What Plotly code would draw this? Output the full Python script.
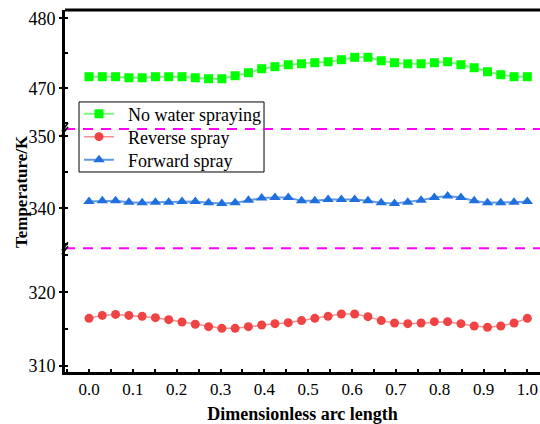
import plotly.graph_objects as go

n = 34
arc = [i / 33 for i in range(n)]

no_water = [471.66, 471.66, 471.66, 471.51, 471.51, 471.66, 471.66, 471.66, 471.51, 471.37,
            471.37, 471.80, 472.23, 472.80, 473.09, 473.37, 473.51, 473.66, 473.80, 474.09,
            474.43, 474.43, 473.94, 473.66, 473.51, 473.51, 473.66, 473.80, 473.37, 472.94,
            472.37, 471.94, 471.66, 471.66]

reverse = [316.47, 316.87, 317.00, 316.87, 316.74, 316.56, 316.29, 315.97, 315.66, 315.34,
           315.11, 315.11, 315.34, 315.57, 315.75, 315.88, 316.16, 316.47, 316.74, 317.06,
           317.06, 316.70, 316.16, 315.84, 315.75, 315.84, 316.02, 316.02, 315.75, 315.43,
           315.25, 315.43, 315.84, 316.47]

forward = [340.93, 341.03, 341.03, 340.85, 340.75, 340.85, 340.85, 340.93, 340.93, 340.75,
           340.65, 340.75, 341.13, 341.41, 341.50, 341.50, 341.03, 341.03, 341.21, 341.21,
           341.21, 341.03, 340.75, 340.65, 340.85, 341.13, 341.50, 341.69, 341.50, 341.03,
           340.75, 340.75, 340.85, 340.93]

x_ticks = [round(0.1 * i, 1) for i in range(11)]
x_ticktext = [f"{v:.1f}" for v in x_ticks]

FONT = "Liberation Serif"
PAD = "&nbsp;&nbsp;"

fig = go.Figure()
fig.add_trace(go.Scatter(
    x=arc, y=no_water, yaxis="y3", name=PAD + "No water spraying", mode="lines+markers",
    line=dict(color="rgba(0,230,0,0.5)", width=2),
    marker=dict(symbol="square", size=9, color="#00FF00"), legend="legend",
))
fig.add_trace(go.Scatter(
    x=arc, y=reverse, yaxis="y", name=PAD + "Reverse spray", mode="lines+markers",
    line=dict(color="rgba(240,70,70,0.6)", width=1.5),
    marker=dict(symbol="circle", size=9, color="#F04343"), legend="legend2",
))
fig.add_trace(go.Scatter(
    x=arc, y=forward, yaxis="y2", name=PAD + "Forward spray", mode="lines+markers",
    line=dict(color="rgba(30,110,220,0.7)", width=2),
    marker=dict(symbol="triangle-up", size=10, color="#1F6FDD"), legend="legend3",
))

b1 = 0.3417
b2 = 0.6713

yax_common = dict(
    showline=True, linecolor="black", linewidth=3, showgrid=False, zeroline=False,
    ticks="outside", ticklen=3, tickwidth=2, tickcolor="black", dtick=10,
    tickfont=dict(family=FONT, size=18, color="black"),
    minor=dict(dtick=5, ticks="inside", ticklen=3, tickwidth=2, tickcolor="black"),
    anchor="x",
)

leg_common = dict(
    x=0.0295, xanchor="left", yanchor="middle",
    bgcolor="rgba(0,0,0,0)", borderwidth=0,
    font=dict(family=FONT, size=18, color="black"),
)

fig.update_layout(
    width=540, height=424,
    margin=dict(l=65, r=0, t=10, b=52),
    paper_bgcolor="white", plot_bgcolor="white",
    font=dict(family=FONT, color="black"),
    showlegend=True,
    legend=dict(y=0.7127, **leg_common),
    legend2=dict(y=0.6492, **leg_common),
    legend3=dict(y=0.5856, **leg_common),
    xaxis=dict(
        range=[-0.0548, 1.0289], anchor="y",
        showline=True, linecolor="black", linewidth=3, showgrid=False, zeroline=False,
        tickvals=x_ticks, ticktext=x_ticktext,
        ticks="inside", ticklen=3, tickwidth=2, tickcolor="black",
        minor=dict(dtick=0.05, tick0=0, ticks="inside", ticklen=3, tickwidth=2, tickcolor="black"),
        tickfont=dict(family=FONT, size=17, color="black"),
        title=dict(text="<b>Dimensionless arc length</b>", font=dict(family=FONT, size=18, color="black"), standoff=10),
    ),
    yaxis=dict(domain=[0, b1], range=[309.19, 325.97], tick0=310, **yax_common),
    yaxis2=dict(domain=[b1, b2], range=[334.44, 351.01], tick0=340, **yax_common),
    yaxis3=dict(domain=[b2, 1], range=[464.19, 481.19], tick0=470, **yax_common),
)

# y-axis title (spans the broken axis)
fig.add_annotation(text="<b>Temperature/K</b>", xref="paper", yref="paper",
                   x=-0.0926, y=0.497, xanchor="center", yanchor="middle",
                   textangle=-90, showarrow=False,
                   font=dict(family=FONT, size=17, color="black"))

# legend frame
fig.add_shape(type="rect", xref="paper", yref="paper", x0=0.0295, x1=0.419, y0=0.5525, y1=0.7459,
              line=dict(color="black", width=1), fillcolor="rgba(0,0,0,0)", layer="above")

# dashed magenta break lines
for yy in [0, 1]:
    fig.add_shape(type="line", xref="paper", yref="y2 domain", x0=0, x1=1, y0=yy, y1=yy,
                  line=dict(color="#FF00FF", width=2, dash="10px,8px"), layer="above")
    # break marks on the y axis
    for off in [-2, 2]:
        fig.add_shape(type="line", xref="paper", yref="y2 domain",
                      xsizemode="pixel", ysizemode="pixel", xanchor=0, yanchor=yy,
                      x0=-3, x1=3, y0=off - 4, y1=off + 4,
                      line=dict(color="black", width=1.5), layer="above")

# top frame line
fig.add_shape(type="line", xref="paper", yref="paper", x0=0, x1=1, y0=1, y1=1,
              line=dict(color="black", width=3), layer="above")

fig.write_html("out.html")
